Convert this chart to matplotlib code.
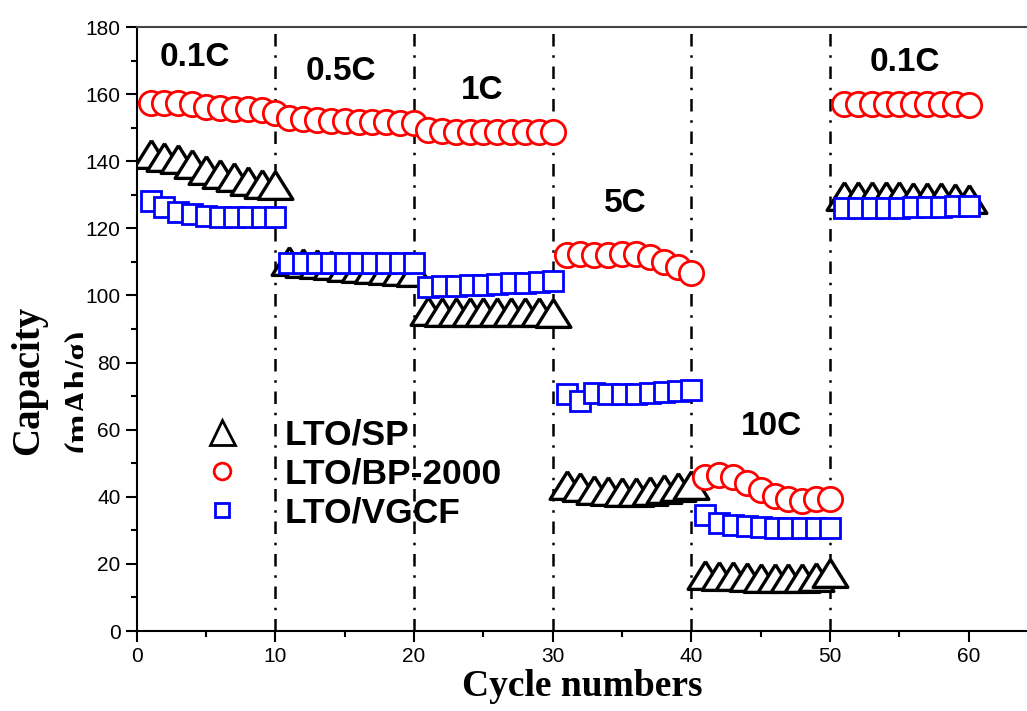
import numpy as np
import matplotlib
matplotlib.use('Agg')
import matplotlib.pyplot as plt
from matplotlib.lines import Line2D
from matplotlib.transforms import Bbox, TransformedBbox

# cycle number for each point
cycles = np.arange(1, 61)

# LTO/SP (black triangles)
sp = [142.1, 141.3, 140.6, 139.2, 137.4, 136.2, 135.2, 134.2, 133.2, 132.8,
      110.2, 109.8, 109.4, 109.0, 108.6, 108.2, 107.8, 107.5, 107.2, 107.0,
      95.3, 95.1, 95.0, 95.0, 95.0, 95.0, 95.0, 95.0, 95.0, 94.9,
      43.4, 42.8, 42.1, 41.8, 41.5, 41.5, 41.8, 42.3, 42.8, 43.6,
      16.7, 16.5, 16.3, 16.0, 15.9, 15.9, 15.9, 15.9, 16.2, 17.3,
      129.7, 129.7, 129.7, 129.6, 129.5, 129.4, 129.3, 129.2, 129.0, 128.7]

# LTO/BP-2000 (red circles)
bp = [157.3, 157.5, 157.5, 157.0, 156.3, 155.8, 155.5, 155.5, 155.2, 154.3,
      152.8, 152.5, 152.3, 152.0, 152.0, 151.8, 151.8, 151.6, 151.5, 151.4,
      149.3, 149.0, 148.8, 148.7, 148.7, 148.7, 148.7, 148.7, 148.7, 148.7,
      112.0, 112.5, 112.0, 112.0, 112.3, 112.5, 111.5, 110.0, 108.5, 106.6,
      46.0, 46.5, 46.0, 44.0, 42.0, 40.3, 39.3, 38.8, 39.3, 39.3,
      157.2, 157.2, 157.2, 157.2, 157.2, 157.2, 157.2, 157.1, 157.0, 156.9]

# LTO/VGCF (blue squares)
vgcf = [128.1, 126.4, 124.9, 124.4, 123.8, 123.5, 123.4, 123.4, 123.4, 123.5,
        109.6, 109.6, 109.6, 109.6, 109.6, 109.6, 109.6, 109.6, 109.6, 109.6,
        102.5, 102.7, 102.9, 103.0, 103.2, 103.4, 103.6, 103.8, 104.0, 104.2,
        70.6, 68.6, 71.0, 70.5, 70.5, 70.7, 71.0, 71.3, 71.5, 71.8,
        34.6, 32.2, 31.5, 31.2, 31.0, 30.8, 30.8, 30.8, 30.8, 30.8,
        126.0, 126.0, 126.0, 126.2, 126.2, 126.3, 126.4, 126.5, 126.6, 126.7]

labels = ['LTO/SP', 'LTO/BP-2000', 'LTO/VGCF']

# rate annotations
rate_text = ['0.1C', '0.5C', '1C', '5C', '10C', '0.1C']
rate_x = [4.2, 14.7, 24.9, 35.2, 45.8, 55.4]
rate_y = [171, 166.6, 161.2, 127.5, 60.8, 169.5]
rate_bounds = [10, 20, 30, 40, 50]

tri = [(0, 0.8), (-1, -0.8), (1, -0.8), (0, 0.8)]

fig = plt.figure(figsize=(10.27, 7.11), dpi=100)
ax = fig.add_axes([0.1331, 0.1125, 0.8669, 0.8495])

for xb in rate_bounds:
    ax.axvline(xb, color='black', lw=1.8, ls=(0, (5, 3.5, 1, 3.5)), zorder=1)

ax.plot(cycles, sp, ls='none', marker=tri, ms=25, mfc='white', mec='black', mew=2.4, zorder=2)
ax.plot(cycles, bp, ls='none', marker='o', ms=17.5, mfc='white', mec='red', mew=2.0, zorder=3)
ax.plot(cycles, vgcf, ls='none', marker='s', ms=14.5, mfc='white', mec='blue', mew=2.0, zorder=4)

for t, x, y in zip(rate_text, rate_x, rate_y):
    ax.text(x, y, t, ha='center', va='center', fontsize=24, fontweight='bold',
            family='Liberation Sans')

handles = [Line2D([], [], ls='none', marker='^', ms=18, mfc='white', mec='black', mew=2),
           Line2D([], [], ls='none', marker='o', ms=12, mfc='white', mec='red', mew=2),
           Line2D([], [], ls='none', marker='s', ms=10.5, mfc='white', mec='blue', mew=2)]
ax.legend(handles, labels, loc='upper left', bbox_to_anchor=(0.0733, 0.352),
          frameon=False, borderpad=0, borderaxespad=0, handlelength=1.15,
          handletextpad=1.18, labelspacing=0.17,
          prop={'family': 'Liberation Sans', 'weight': 'bold', 'size': 25.5})

ax.set_xlim(0, 64.2)
ax.set_ylim(0, 180)
ax.set_xticks(range(0, 61, 10))
ax.set_xticks(range(5, 61, 10), minor=True)
ax.set_yticks(range(0, 181, 20))
ax.set_yticks(range(10, 181, 20), minor=True)
ax.tick_params(which='both', direction='out', width=1.5, labelsize=15)
ax.tick_params(which='major', length=8)
ax.tick_params(which='minor', length=4)
for lab in ax.get_xticklabels() + ax.get_yticklabels():
    lab.set_family('Liberation Sans')
ax.spines['right'].set_visible(False)
for s in ['left', 'bottom', 'top']:
    ax.spines[s].set_linewidth(1.5)
ax.spines['top'].set_color('#444444')

ax.set_xlabel('Cycle numbers', fontsize=27, fontweight='bold', family='Liberation Serif', labelpad=2)

fig.text(29 / 1027, 1 - 380 / 711, 'Capacity', rotation=90, ha='center', va='center',
         fontsize=28, fontweight='bold', family='Liberation Serif')
unit = fig.text(80 / 1027, 1 - 390 / 711, '(mAh/g)', rotation=90, ha='center', va='center',
                fontsize=25, fontweight='bold', family='Liberation Serif')
unit.set_clip_box(TransformedBbox(Bbox([[0, 0], [83 / 1027, 1]]), fig.transFigure))
unit.set_clip_on(True)

fig.savefig('out.png', dpi=100)
